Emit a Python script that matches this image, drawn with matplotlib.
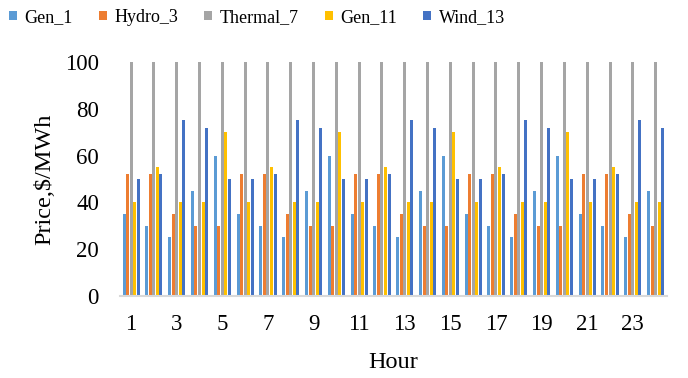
import matplotlib
matplotlib.use("Agg")
import matplotlib.pyplot as plt
import numpy as np

hours = list(range(1, 25))
series_names = ["Gen_1", "Hydro_3", "Thermal_7", "Gen_11", "Wind_13"]
colors = ["#5B9BD5", "#ED7D31", "#A5A5A5", "#FFC000", "#4472C4"]

gen_1 = [35, 30, 25, 45, 60, 35, 30, 25, 45, 60, 35, 30,
         25, 45, 60, 35, 30, 25, 45, 60, 35, 30, 25, 45]
hydro_3 = [52, 52, 35, 30, 30, 52, 52, 35, 30, 30, 52, 52,
           35, 30, 30, 52, 52, 35, 30, 30, 52, 52, 35, 30]
thermal_7 = [100] * 24
gen_11 = [40, 55, 40, 40, 70, 40, 55, 40, 40, 70, 40, 55,
          40, 40, 70, 40, 55, 40, 40, 70, 40, 55, 40, 40]
wind_13 = [50, 52, 75, 72, 50, 50, 52, 75, 72, 50, 50, 52,
           75, 72, 50, 50, 52, 75, 72, 50, 50, 52, 75, 72]

plt.rcParams["font.family"] = ["Liberation Serif", "DejaVu Serif"]

fig = plt.figure(figsize=(6.88, 3.78), dpi=100)
ax = fig.add_axes([0.174, 0.217, 0.7955, 0.619])

x = np.array(hours)
w = 0.155
data = [gen_1, hydro_3, thermal_7, gen_11, wind_13]
for i, (name, vals, c) in enumerate(zip(series_names, data, colors)):
    ax.bar(x + (i - 2) * w, vals, width=w * 0.85, color=c, label=name)

ax.set_xlim(0.5, 24.5)
ax.set_ylim(0, 100)
ax.set_yticks(range(0, 101, 20))
ax.set_xticks(hours[::2])
ax.tick_params(axis="both", length=0, labelsize=16.5)
ax.tick_params(axis="x", pad=13)
ax.tick_params(axis="y", pad=15)
for s in ["top", "right", "left"]:
    ax.spines[s].set_visible(False)
ax.spines["bottom"].set_color("#D9D9D9")
ax.spines["bottom"].set_linewidth(1.5)

ax.set_xlabel("Hour", fontsize=17.5, labelpad=12)
ax.set_ylabel("Price,\\$/MWh", fontsize=17.5, labelpad=7)

fig.legend(loc="upper left", bbox_to_anchor=(0.0, 1.0), ncol=5, frameon=False,
           fontsize=13, handlelength=0.45, handleheight=0.45, handletextpad=0.4,
           columnspacing=1.45, borderaxespad=0.1)

fig.savefig("out.png", dpi=100)
